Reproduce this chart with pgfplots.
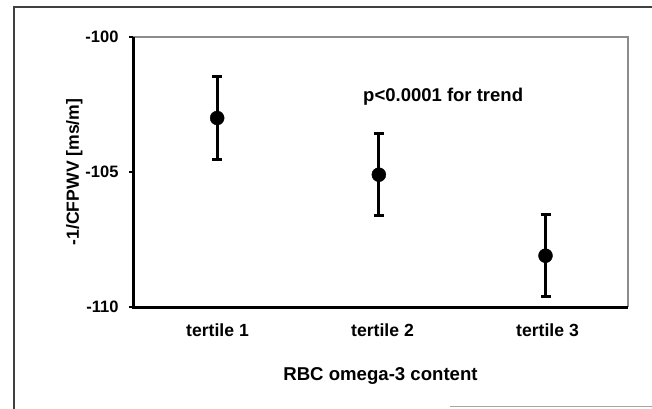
\documentclass[border=0pt]{standalone}
\usepackage{fontspec}
\setmainfont{Liberation Sans}
\usepackage{pgfplots}
\pgfplotsset{compat=1.18}
\begin{document}
\fontsize{16}{19}\selectfont\bfseries
\begin{tikzpicture}[x=1pt,y=1pt]
\useasboundingbox (0,0) rectangle (652,408);
% outer frame
\draw[line width=1.5pt, black!75] (14,-10) -- (14,401) -- (670,401);
\draw[line width=1.2pt, black!35] (450,1.2) -- (670,1.2);
\begin{axis}[
  at={(133pt,101pt)}, anchor=south west,
  scale only axis, width=495pt, height=270pt,
  xmin=-0.5, xmax=2.5, ymin=-110, ymax=-100,
  axis line style={draw=none},
  xtick={0,1,2}, xticklabels={tertile 1,tertile 2,tertile 3},
  xtick style={draw=none},
  ytick={-110,-105,-100}, yticklabels={-110,-105,-100},
  ytick pos=left, tick align=outside,
  ytick style={black, line width=1.5pt},
  major tick length=4pt,
  yticklabel style={font=\fontsize{16.5}{19}\selectfont\bfseries, xshift=-5pt},
  xticklabel style={font=\fontsize{17.6}{20}\selectfont\bfseries, yshift=-7pt, xshift=2pt},
  xlabel={RBC omega-3 content},
  ylabel={-1/CFPWV [ms/m]},
  xlabel style={font=\fontsize{18.6}{21}\selectfont\bfseries, yshift=-20pt},
  ylabel style={font=\fontsize{17.6}{20}\selectfont\bfseries, yshift=-8pt},
  clip=false,
]
\draw[line width=1.5pt, black!45] (rel axis cs:0,1) -- (rel axis cs:1,1) -- (rel axis cs:1,0);
\draw[line width=3pt, black] (rel axis cs:0,1) -- (rel axis cs:0,0) -- (rel axis cs:1,0);
\addplot[only marks, mark=*, mark size=7pt, black,
  error bars/.cd, y dir=both, y explicit,
  error bar style={line width=3pt, black},
  error mark options={line width=3pt, mark size=5pt, rotate=90}]
  coordinates {
    (0.01,-103.0) +- (0,1.52)
    (0.99,-105.1) +- (0,1.52)
    (2.0,-108.1) +- (0,1.52)
  };
\node[anchor=west, inner sep=0pt, font=\fontsize{18.5}{21}\selectfont\bfseries] at (axis cs:0.894,-102.22) {p<0.0001 for trend};
\end{axis}
\end{tikzpicture}
\end{document}
